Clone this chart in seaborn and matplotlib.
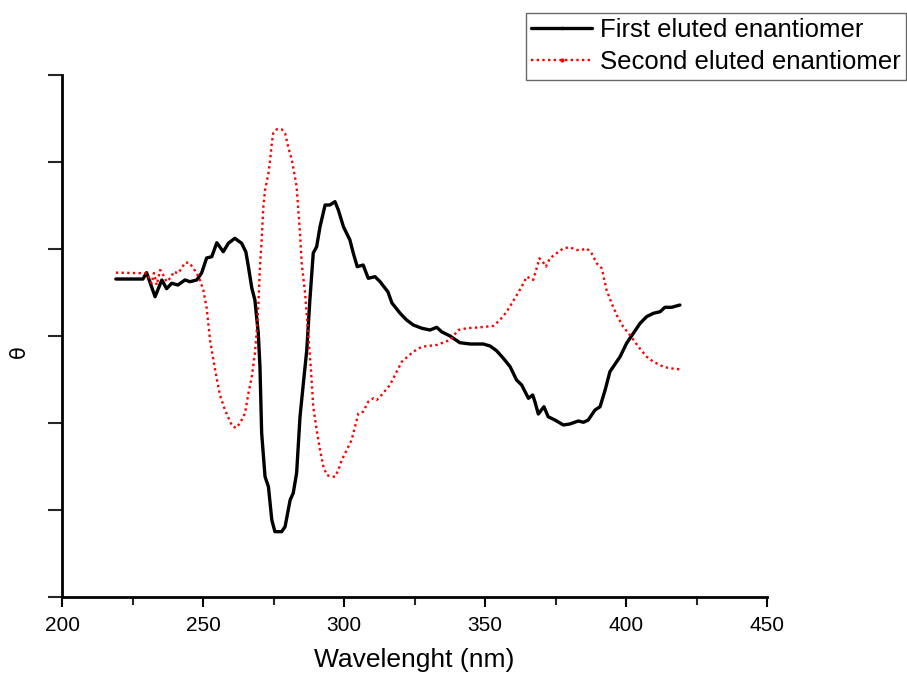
import matplotlib
matplotlib.use("Agg")
import matplotlib.pyplot as plt
import seaborn as sns
import pandas as pd
from matplotlib.lines import Line2D
from matplotlib.ticker import MultipleLocator

# ---- data ----
first_nm = [219.1, 228.7, 230.0, 233.0, 235.4, 237.1, 238.9, 241.1, 243.6, 245.4, 247.8, 249.5,
            251.3, 253.1, 254.9, 257.2, 259.0, 261.3, 263.7, 265.2, 266.1, 267.3, 268.4, 269.6,
            270.2, 270.8, 272.0, 273.2, 274.4, 275.5, 277.9, 279.1, 280.9, 282.0, 283.2, 284.4,
            285.6, 286.8, 287.9, 289.1, 290.3, 291.5, 293.3, 295.0, 296.8, 298.0, 299.8, 302.1,
            303.3, 304.7, 306.8, 308.6, 311.0, 312.8, 315.6, 317.0, 319.9, 322.2, 324.6, 327.6,
            330.5, 332.9, 334.6, 337.6, 341.1, 344.7, 349.4, 351.8, 354.1, 356.5, 358.9, 361.2,
            363.0, 365.4, 366.9, 367.7, 368.9, 370.9, 372.4, 374.8, 377.8, 380.1, 383.1, 384.9,
            386.6, 389.0, 390.8, 392.6, 394.3, 397.9, 400.2, 402.6, 405.0, 407.3, 409.7, 412.1,
            413.8, 416.2, 419.1]
first_theta = [0.655, 0.655, 0.728, 0.452, 0.644, 0.544, 0.606, 0.586, 0.644, 0.624, 0.644, 0.724,
               0.897, 0.911, 1.072, 0.969, 1.066, 1.123, 1.066, 0.966, 0.797, 0.552, 0.414, 0.034,
               -0.353, -1.115, -1.617, -1.732, -2.115, -2.249, -2.249, -2.192, -1.885, -1.805, -1.575, -0.928,
               -0.540, -0.161, 0.414, 0.954, 1.026, 1.256, 1.506, 1.506, 1.544, 1.448, 1.256, 1.103,
               0.951, 0.797, 0.816, 0.663, 0.682, 0.624, 0.506, 0.379, 0.261, 0.184, 0.126, 0.089,
               0.069, 0.100, 0.049, 0.000, -0.077, -0.092, -0.092, -0.115, -0.169, -0.256, -0.353, -0.506,
               -0.563, -0.716, -0.678, -0.755, -0.897, -0.813, -0.928, -0.966, -1.023, -1.011, -0.977, -0.992,
               -0.966, -0.851, -0.813, -0.621, -0.410, -0.238, -0.084, 0.031, 0.146, 0.222, 0.261, 0.279,
               0.330, 0.330, 0.356]

second_nm = [219.1, 230.0, 231.8, 232.6, 233.6, 234.8, 235.9, 237.1, 238.9, 239.5, 241.2, 242.4,
             243.6, 245.1, 246.6, 247.8, 248.9, 250.1, 251.3, 252.5, 254.3, 256.0, 257.8, 260.3,
             261.7, 263.1, 264.9, 266.1, 267.3, 268.4, 269.0, 269.6, 270.2, 270.8, 271.4, 272.0,
             273.2, 273.8, 274.4, 274.9, 276.1, 277.9, 279.1, 280.2, 281.5, 282.6, 283.2, 283.8,
             284.4, 285.0, 286.2, 287.3, 288.2, 289.1, 290.3, 291.5, 292.7, 293.9, 295.6, 296.8,
             298.0, 299.2, 301.0, 302.7, 303.9, 305.1, 306.8, 308.6, 310.4, 311.6, 312.8, 316.3,
             320.5, 324.6, 327.6, 332.9, 337.6, 340.5, 343.5, 348.2, 352.9, 355.3, 357.7, 360.6,
             363.0, 364.8, 367.1, 368.3, 369.3, 370.5, 371.6, 373.0, 375.4, 377.8, 380.1, 382.5,
             384.3, 386.0, 387.8, 389.6, 391.4, 393.1, 394.9, 396.7, 399.0, 401.4, 404.4, 407.3,
             409.7, 413.2, 415.6, 418.9]
second_theta = [0.728, 0.721, 0.606, 0.724, 0.586, 0.759, 0.701, 0.624, 0.682, 0.739, 0.721, 0.778,
                0.843, 0.843, 0.778, 0.721, 0.644, 0.529, 0.322, -0.046, -0.391, -0.678, -0.851, -1.034,
                -1.057, -1.003, -0.889, -0.659, -0.468, -0.199, 0.031, 0.337, 0.797, 1.103, 1.486, 1.678,
                1.870, 2.023, 2.215, 2.330, 2.376, 2.376, 2.330, 2.176, 2.023, 1.831, 1.716, 1.448,
                1.184, 0.836, 0.491, 0.031, -0.353, -0.813, -1.080, -1.310, -1.502, -1.598, -1.617, -1.617,
                -1.540, -1.425, -1.310, -1.195, -1.043, -0.889, -0.870, -0.755, -0.716, -0.736, -0.698, -0.563,
                -0.295, -0.180, -0.123, -0.103, -0.046, 0.069, 0.089, 0.100, 0.115, 0.184, 0.279, 0.433,
                0.567, 0.682, 0.644, 0.778, 0.893, 0.854, 0.797, 0.893, 0.951, 1.008, 1.020, 0.989,
                0.989, 1.008, 0.951, 0.836, 0.778, 0.529, 0.376, 0.241, 0.107, 0.011, -0.123, -0.238,
                -0.295, -0.353, -0.371, -0.383]

series_names = ["First eluted enantiomer", "Second eluted enantiomer"]
x_ticks = [200, 250, 300, 350, 400, 450]

# ---- plot ----
sns.set_style("ticks")
plt.rcParams['font.family'] = ['Liberation Sans', 'DejaVu Sans']

fig = plt.figure(figsize=(9.07, 6.77), dpi=100)
ax = fig.add_axes([62/907, 1-597/677, (767-62)/907, (597-75)/677])

df1 = pd.DataFrame({"nm": first_nm, "theta": first_theta})
df2 = pd.DataFrame({"nm": second_nm, "theta": second_theta})

sns.lineplot(data=df1, x="nm", y="theta", ax=ax, color="black", linewidth=2.4,
             sort=False, estimator=None)
sns.lineplot(data=df2, x="nm", y="theta", ax=ax, color="red", linewidth=1.7,
             linestyle=(0, (1, 1.4)), sort=False, estimator=None)

ax.set_xlim(200, 450)
ax.set_ylim(-3, 3)
ax.set_xticks(x_ticks)
ax.set_xticklabels([str(t) for t in x_ticks], fontsize=15, color="black")
ax.xaxis.set_minor_locator(MultipleLocator(25))
ax.set_yticks([-3, -2, -1, 0, 1, 2, 3])
ax.set_yticklabels([])
ax.tick_params(axis="x", which="major", direction="out", length=7, width=1.5, pad=7, colors="black")
ax.tick_params(axis="x", which="minor", direction="out", length=6, width=1.5)
ax.tick_params(axis="y", which="major", direction="out", length=10, width=1.5)

for s in ["top", "right"]:
    ax.spines[s].set_visible(False)
for s in ["left", "bottom"]:
    ax.spines[s].set_linewidth(2)
    ax.spines[s].set_color("black")

ax.set_xlabel("Wavelenght (nm)", fontsize=19, labelpad=9, color="black")
ax.set_ylabel("")
fig.text(19/907, 1-352/677, "θ", rotation=90, fontsize=15, ha="center", va="center",
         family=["DejaVu Sans"], color="black")

handles = [Line2D([0], [0], color="black", linewidth=2.4, marker=".", markersize=3),
           Line2D([0], [0], color="red", linewidth=1.7, linestyle=(0, (1, 1.4)),
                  marker=".", markersize=4)]
leg = fig.legend(handles, series_names, loc="upper right",
                 bbox_to_anchor=(906/907, 1-13/677), fontsize=18.5, frameon=True,
                 fancybox=False, edgecolor="#444444", handlelength=2.4, handletextpad=0.3,
                 borderpad=0.2, labelspacing=0.32, borderaxespad=0)
leg.get_frame().set_linewidth(1)
for t in leg.get_texts():
    t.set_color("black")

fig.savefig("out.png", dpi=100)
